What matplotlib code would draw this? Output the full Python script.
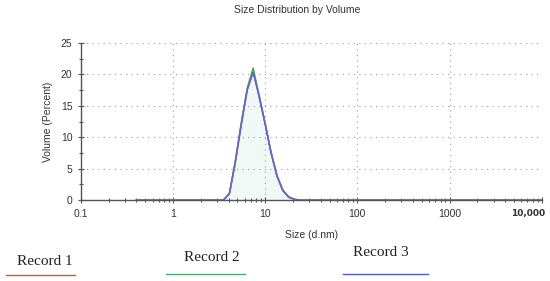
import matplotlib
matplotlib.use("Agg")
import matplotlib.pyplot as plt
import matplotlib.transforms as mtransforms
from matplotlib.ticker import FixedLocator, LogLocator, NullFormatter, MultipleLocator

# size bins (d.nm) and volume percent for each record
sizes = [0.4, 3.52, 4.09, 4.74, 5.5, 6.38, 7.4, 8.58, 9.96, 11.55, 13.4,
         15.5, 18.0, 20.9, 24.3, 10000]
record1 = [0, 0, 1.0, 6.1, 12.1, 17.6, 20.6, 16.6, 12.2, 7.6, 3.9, 1.6, 0.5, 0.1, 0, 0]
record2 = [0, 0, 1.1, 6.2, 12.3, 17.8, 21.0, 16.7, 12.3, 7.6, 3.8, 1.5, 0.4, 0.1, 0, 0]
record3 = [0, 0, 1.0, 6.0, 12.0, 17.5, 20.3, 16.5, 12.2, 7.6, 3.9, 1.6, 0.5, 0.1, 0, 0]

x_ticks = [0.1, 1, 10, 100, 1000, 10000]
x_labels = ["0.1", "1", "10", "100", "1000", "10,000"]
y_ticks = [0, 5, 10, 15, 20, 25]

legend_names = ["Record 1", "Record 2", "Record 3"]
line_colors = ["#e0402a", "#3cb04e", "#6b5fe0"]
legend_colors = ["#d65a2e", "#4fae6e", "#4f5fc0"]

plt.rcParams['font.family'] = ['Liberation Sans', 'DejaVu Sans']

fig = plt.figure(figsize=(5.5, 2.81), dpi=100)
ax = fig.add_axes([0.147, 0.288, 0.838, 0.559])

ax.fill_between(sizes, record3, color="#f1f9f7", zorder=1)
for vals, c in zip([record1, record2, record3], line_colors):
    ax.plot(sizes, vals, color=c, lw=1.1, zorder=3)

ax.set_xscale("log")
ax.set_xlim(0.1, 10000)
ax.set_ylim(0, 25)

ax.xaxis.set_major_locator(FixedLocator(x_ticks))
ax.set_xticklabels(x_labels)
ax.xaxis.set_minor_locator(LogLocator(base=10, subs=range(2, 10)))
ax.xaxis.set_minor_formatter(NullFormatter())
ax.set_yticks(y_ticks)
ax.yaxis.set_minor_locator(MultipleLocator(2.5))

ax.tick_params(axis="both", which="major", direction="inout", length=5,
               width=0.8, color="#555555", labelsize=7.5, labelcolor="#333333")
ax.tick_params(axis="both", which="minor", direction="inout", length=3,
               width=0.8, color="#555555")
ax.tick_params(axis="x", pad=4)

# last label is bold and pulled left so it stays inside the figure
for lab in ax.get_xticklabels():
    if lab.get_text() == "10,000":
        lab.set_fontweight("bold")
        lab.set_family("DejaVu Sans")
        lab.set_fontsize(6.5)
        lab.set_horizontalalignment("right")
        lab.set_transform(lab.get_transform() +
                          mtransforms.ScaledTranslation(0.03, 0, fig.dpi_scale_trans))

ax.grid(True, which="major", linestyle=(0, (1, 4)), color="#999999", lw=0.8)
for s in ["top", "right"]:
    ax.spines[s].set_visible(False)
for s in ["left", "bottom"]:
    ax.spines[s].set_color("#555555")
    ax.spines[s].set_linewidth(1.0)

ax.set_xlabel("Size (d.nm)", fontsize=7.5, color="#333333", labelpad=8)
ax.set_ylabel("Volume (Percent)", fontsize=7.5, color="#333333", labelpad=6)
fig.text(0.54, 0.965, "Size Distribution by Volume", fontsize=7.5,
         color="#333333", ha="center", va="center")

# hand-drawn style legend under the chart
text_pos = [(0.082, 0.071), (0.385, 0.085), (0.693, 0.10)]
line_pos = [(0.01, 0.136, 0.022), (0.302, 0.445, 0.025), (0.624, 0.778, 0.025)]
for name, (tx, ty), (x0, x1, ly), c in zip(legend_names, text_pos, line_pos, legend_colors):
    fig.text(tx, ty, name, fontsize=11, family="Liberation Serif",
             ha="center", va="center", color="#222222")
    fig.add_artist(plt.Line2D([x0, x1], [ly, ly], color=c, lw=1.0,
                              transform=fig.transFigure))

fig.savefig("out.png", dpi=100)
